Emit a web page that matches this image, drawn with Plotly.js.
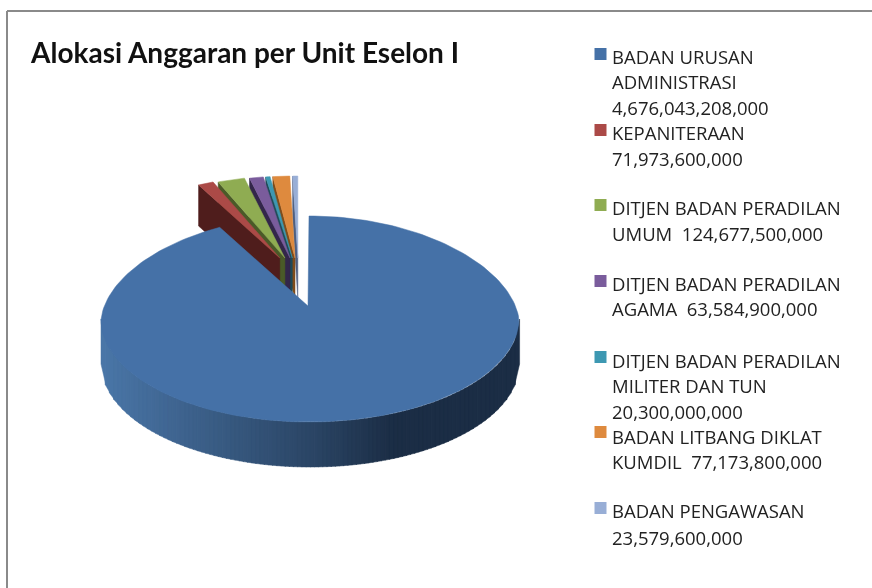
<!DOCTYPE html>
<html>
<head>
<meta charset="utf-8">
<script src="https://cdn.plot.ly/plotly-3.0.1.min.js"></script>
<style>html,body{margin:0;padding:0;background:#fff}#chart{width:872px;height:588px;filter:blur(0.6px)}</style>
</head>
<body>
<div id="chart"></div>
<script>
// ---- data ----
var chartTitle = "Alokasi Anggaran per Unit Eselon I";
var categories = ["BADAN URUSAN ADMINISTRASI","KEPANITERAAN","DITJEN BADAN PERADILAN UMUM","DITJEN BADAN PERADILAN AGAMA","DITJEN BADAN PERADILAN MILITER DAN TUN","BADAN LITBANG DIKLAT KUMDIL","BADAN PENGAWASAN"];
var values = [4676043208000,71973600000,124677500000,63584900000,20300000000,77173800000,23579600000];
var legendLines = [
  ["BADAN URUSAN","ADMINISTRASI","4,676,043,208,000"],
  ["KEPANITERAAN","71,973,600,000"],
  ["DITJEN BADAN PERADILAN","UMUM  124,677,500,000"],
  ["DITJEN BADAN PERADILAN","AGAMA  63,584,900,000"],
  ["DITJEN BADAN PERADILAN","MILITER DAN TUN","20,300,000,000"],
  ["BADAN LITBANG DIKLAT","KUMDIL  77,173,800,000"],
  ["BADAN PENGAWASAN","23,579,600,000"]
];
var topColors  = ["#4571a7","#ab4a47","#8fac52","#7a5c9c","#3d98b2","#de8a3e","#98aed6"];
var sideColors = ["#1b2d45","#4f1d1c","#4a5a28","#33264a","#1f4b58","#7f4c1a","#4e5f80"];

// ---- layout constants (pixel space of the hidden axes) ----
var W = 872, H = 588;
var swatchY = [54,130,205,281,357,432,508];
var rowY = [[56,81.5,107],[132.5,158],[207,233],[283,308],[360,385.5,411],[436.5,461],[510,537]];
var main = {cx:310, cy:319, rx:209, ry:103, depth:45, apexX:308, apexY:306};
var fan = {cx:298.5, apexY:258, E:45, rx:178, ry:82, depth:41};

var total = values.reduce(function(a,b){return a+b;},0);
var rad = Math.PI/180;
// slice angles clockwise from the top
var angles = [], acc = 0;
values.forEach(function(v){ var s = acc; acc += v/total*360; angles.push([s,acc]); });

var traces = [];
function poly(xs, ys, color){
  traces.push({type:"scatter",mode:"lines",x:xs,y:ys,fill:"toself",fillcolor:color,
    line:{color:color,width:0.5},hoverinfo:"skip",showlegend:false});
}
function hex(c){return [1,3,5].map(function(i){return parseInt(c.substr(i,2),16);});}
function mix(a,b,t){var p=hex(a),q=hex(b);return "rgb("+p.map(function(v,i){return Math.round(v+(q[i]-v)*t);}).join(",")+")";}

// exploded small slices: drawn right to left so each top covers its neighbour's cut face
for (var i = values.length-1; i >= 1; i--) {
  var a0 = angles[i][0]-360, a1 = angles[i][1]-360, am = (a0+a1)/2;
  var ax = fan.cx + fan.E*Math.sin(am*rad), ay = fan.apexY;
  var ox = ax + fan.rx*Math.sin(a0*rad), oy = ay - fan.ry*Math.cos(a0*rad);
  poly([ox,ox,ax,ax,ox],[oy,oy+fan.depth,ay+fan.depth,ay,oy],sideColors[i]);
  var xs=[ax], ys=[ay];
  for (var k=0;k<=8;k++){ var t=(a0+(a1-a0)*k/8)*rad; xs.push(ax+fan.rx*Math.sin(t)); ys.push(ay-fan.ry*Math.cos(t)); }
  xs.push(ax); ys.push(ay);
  poly(xs,ys,topColors[i]);
}

// front wall of the main slice, as shaded vertical strips
var strips = 100;
for (var s=0;s<strips;s++){
  var x0 = main.cx-main.rx+2*main.rx*s/strips, x1 = main.cx-main.rx+2*main.rx*(s+1)/strips;
  var e0 = main.cy+main.ry*Math.sqrt(Math.max(0,1-Math.pow((x0-main.cx)/main.rx,2)));
  var e1 = main.cy+main.ry*Math.sqrt(Math.max(0,1-Math.pow((x1-main.cx)/main.rx,2)));
  var f = (s+0.5)/strips;
  var col = f<0.5 ? mix("#4a76a8","#2b4666",f/0.5) : f<0.7 ? mix("#2b4666","#1b2d45",(f-0.5)/0.2) : "#1b2d45";
  poly([x0,x1+0.6,x1+0.6,x0,x0],[e0,e1,e1+main.depth,e0+main.depth,e0],col);
}

// top of the main slice
(function(){
  var xs=[main.apexX], ys=[main.apexY], end=angles[0][1];
  for (var k=0;k<=200;k++){
    var t=end*k/200*rad, c=Math.cos(t);
    var squeeze = 1-0.07*Math.max(0,c);
    xs.push(main.cx-1+main.rx*squeeze*Math.sin(t)+ (1-Math.abs(c))*1);
    ys.push(main.cy-main.ry*c);
  }
  xs.push(main.apexX); ys.push(main.apexY);
  poly(xs,ys,topColors[0]);
})();

// legend swatches
traces.push({type:"scatter",mode:"markers",x:swatchY.map(function(){return 600.5;}),y:swatchY,
  text:categories,hoverinfo:"text",showlegend:false,
  marker:{symbol:"square",size:12,color:topColors,line:{width:0}}});

// legend text
var annotations = [];
legendLines.forEach(function(lines,i){
  lines.forEach(function(txt,j){
    annotations.push({xref:"x",yref:"y",x:612,y:rowY[i][j],text:txt,showarrow:false,xanchor:"left",yanchor:"middle",
      xshift:-2,font:{family:"Open Sans, sans-serif",size:18.5,color:"#222"}});
  });
});

var layout = {
  width:W,height:H,margin:{l:0,r:0,t:0,b:0},paper_bgcolor:"#fff",plot_bgcolor:"#fff",showlegend:false,
  xaxis:{range:[0,W],visible:false,fixedrange:true},
  yaxis:{range:[H,0],visible:false,fixedrange:true},
  annotations:annotations.concat([{xref:"x",yref:"y",x:30,y:52,text:"<b>"+chartTitle+"</b>",showarrow:false,xanchor:"left",yanchor:"middle",xshift:-2,
    font:{family:"Lato, sans-serif",size:28,color:"#111"}}]),
  shapes:[
    {type:"line",xref:"x",yref:"y",x0:7,x1:872,y0:11,y1:11,line:{color:"#8a8a8a",width:2}},
    {type:"line",xref:"x",yref:"y",x0:7,x1:7,y0:11,y1:588,line:{color:"#8a8a8a",width:2}}
  ]
};
Plotly.newPlot("chart",traces,layout,{displayModeBar:false,staticPlot:true});
</script>
</body>
</html>
